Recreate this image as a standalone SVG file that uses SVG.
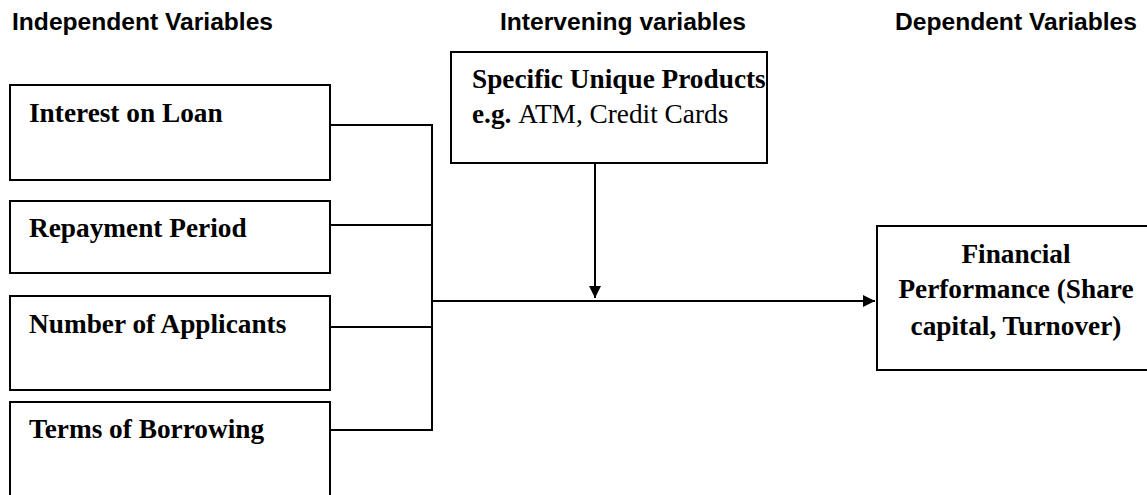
<svg xmlns="http://www.w3.org/2000/svg" width="1147" height="495" viewBox="0 0 1147 495">
<style>
.hdr{font-family:"Liberation Sans",Arial,sans-serif;font-weight:bold;font-size:24.6px;fill:#000}
.box{fill:#fff;stroke:#000;stroke-width:2}
.t{font-family:"Liberation Serif","Times New Roman",serif;font-weight:bold;font-size:27.3px;fill:#000}
.n{font-weight:normal}
.ln{stroke:#000;stroke-width:2;fill:none}
</style>
<defs>
<marker id="ah" viewBox="0 0 10 10" refX="10" refY="5" markerWidth="6" markerHeight="6" orient="auto" markerUnits="strokeWidth">
<path d="M0,0 L10,5 L0,10 z" fill="#000"/>
</marker>
</defs>
<g id="headers">
<text class="hdr" x="12" y="30">Independent Variables</text>
<text class="hdr" x="500" y="30">Intervening variables</text>
<text class="hdr" x="895" y="30">Dependent Variables</text>
</g>
<g id="n-interest">
<rect class="box" x="10" y="85" width="320" height="95"/>
<text class="t" x="29" y="122">Interest on Loan</text>
</g>
<g id="n-repayment">
<rect class="box" x="10" y="201" width="320" height="72"/>
<text class="t" x="29" y="237">Repayment Period</text>
</g>
<g id="n-applicants">
<rect class="box" x="10" y="296" width="320" height="94"/>
<text class="t" x="29" y="333">Number of Applicants</text>
</g>
<g id="n-terms">
<rect class="box" x="10" y="402" width="320" height="100"/>
<text class="t" x="29" y="438">Terms of Borrowing</text>
</g>
<g id="n-products">
<rect class="box" x="451" y="52" width="316" height="111"/>
<text class="t" x="472" y="88">Specific Unique Products</text>
<text class="t" x="472" y="123">e.g. <tspan class="n">ATM, Credit Cards</tspan></text>
</g>
<g id="n-performance">
<rect class="box" x="877" y="226" width="275" height="144"/>
<text class="t" text-anchor="middle" x="1016" y="263">Financial</text>
<text class="t" text-anchor="middle" x="1016" y="298">Performance (Share</text>
<text class="t" text-anchor="middle" x="1016" y="335">capital, Turnover)</text>
</g>
<g id="connectors">
<path class="ln" d="M330,125 H432 V430 H330"/>
<path class="ln" d="M330,225 H432"/>
<path class="ln" d="M330,327 H432"/>
<path class="ln" d="M432,301 H875" marker-end="url(#ah)"/>
<path class="ln" d="M595,163 V298" marker-end="url(#ah)"/>
</g>
</svg>
